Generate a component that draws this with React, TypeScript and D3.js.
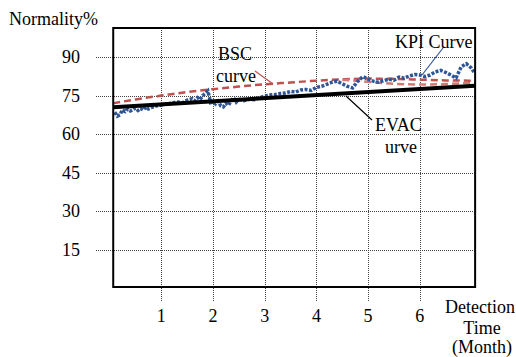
import React from 'react';
import * as d3 from 'd3';

// Month ticks and normality ticks
const xTicks = [1, 2, 3, 4, 5, 6];
const yTicks = [15, 30, 45, 60, 75, 90];

// KPI curve (blue, noisy)
const kpiX = [0.1, 0.15, 0.2, 0.25, 0.3, 0.35, 0.4, 0.45, 0.5, 0.55, 0.6, 0.65, 0.7, 0.75, 0.8, 0.9, 1.0, 1.1, 1.2, 1.3, 1.4, 1.5, 1.6, 1.65, 1.7, 1.75, 1.8, 1.85, 1.9, 1.93, 1.96, 2.0, 2.05, 2.1, 2.15, 2.2, 2.25, 2.3, 2.35, 2.4, 2.45, 2.5, 2.6, 2.7, 2.8, 2.9, 3.0, 3.1, 3.2, 3.3, 3.4, 3.5, 3.6, 3.7, 3.8, 3.9, 4.0, 4.1, 4.2, 4.3, 4.4, 4.5, 4.6, 4.7, 4.8, 4.9, 5.0, 5.1, 5.2, 5.3, 5.4, 5.5, 5.6, 5.7, 5.8, 5.9, 6.0, 6.1, 6.2, 6.3, 6.4, 6.5, 6.6, 6.7, 6.75, 6.8, 6.9, 6.95, 7.0, 7.05];
const kpiY = [68.5, 67.0, 67.5, 69.5, 68.8, 69.8, 69.0, 69.5, 70.2, 69.2, 70.0, 69.4, 70.6, 69.8, 70.3, 71.0, 71.2, 71.8, 72.0, 72.6, 72.2, 73.2, 73.8, 73.0, 74.2, 73.4, 75.0, 75.8, 76.8, 74.5, 71.5, 73.0, 71.8, 72.8, 71.0, 70.6, 72.0, 71.2, 73.0, 74.2, 72.5, 73.6, 73.0, 73.6, 73.4, 74.2, 74.8, 75.2, 75.4, 75.8, 76.0, 76.6, 76.4, 77.2, 77.4, 77.0, 78.2, 78.6, 79.4, 80.2, 80.6, 79.6, 78.6, 78.0, 80.6, 82.4, 81.4, 80.6, 80.2, 80.8, 81.4, 81.0, 82.2, 81.8, 82.6, 83.2, 83.0, 82.4, 83.0, 84.2, 84.8, 84.0, 83.0, 81.8, 84.0, 86.2, 87.4, 86.6, 85.6, 84.0];

// BSC curve (red dashed) and its lower trace near the end
const bscX = [0.07, 0.5, 1, 1.5, 2, 2.5, 3, 3.5, 4, 4.5, 5, 5.5, 6, 6.5, 7.07];
const bscY = [72, 73.5, 75, 76.4, 77.5, 78.5, 79.4, 80.1, 80.8, 81.3, 81.6, 81.5, 81.2, 80.9, 80.8];
const bsc2X = [4.5, 5.0, 5.5, 6.0, 6.5, 7.07];
const bsc2Y = [81.2, 80.4, 79.6, 79.3, 79.5, 80.0];

// EVAC curve (black straight)
const evacX = [0.07, 7.07];
const evacY = [70.5, 78.8];

const W = 516;
const H = 357;
const family = 'Liberation Serif, Times New Roman, serif';

const App = () => {
  const ref = React.useRef<SVGSVGElement>(null);

  React.useEffect(() => {
    const svg = d3.select(ref.current);
    svg.selectAll('*').remove();

    const x = d3.scaleLinear().domain([0, 7]).range([109.6, 471.5]);
    const y = d3.scaleLinear().domain([0, 90]).range([288.6, 57]);
    const left = x(0.07);
    const right = x(7.07);
    const top = 28;
    const bottom = 287;

    const grid = svg.append('g')
      .attr('stroke', '#444')
      .attr('stroke-width', 1)
      .attr('stroke-dasharray', '1,1');

    grid.selectAll('line.h')
      .data(yTicks)
      .join('line')
      .attr('x1', 96)
      .attr('x2', right)
      .attr('y1', (d) => Math.round(y(d)) + 0.5)
      .attr('y2', (d) => Math.round(y(d)) + 0.5);

    grid.selectAll('line.v')
      .data(xTicks)
      .join('line')
      .attr('x1', (d) => Math.round(x(d)) + 0.5)
      .attr('x2', (d) => Math.round(x(d)) + 0.5)
      .attr('y1', top)
      .attr('y2', 302);

    // Tick labels
    svg.append('g')
      .attr('font-family', family)
      .attr('font-size', 18)
      .selectAll('text')
      .data(yTicks)
      .join('text')
      .attr('x', 80)
      .attr('y', (d) => y(d) + 6)
      .attr('text-anchor', 'end')
      .text((d) => d);

    svg.append('g')
      .attr('font-family', family)
      .attr('font-size', 18)
      .selectAll('text')
      .data(xTicks)
      .join('text')
      .attr('x', (d) => x(d))
      .attr('y', 322)
      .attr('text-anchor', 'middle')
      .text((d) => d);

    const line = (xs: number[], ys: number[], curve: d3.CurveFactory) =>
      d3.line<number>()
        .x((d, i) => x(xs[i]))
        .y((d, i) => y(ys[i]))
        .curve(curve)(ys);

    // BSC
    svg.append('path')
      .attr('d', line(bscX, bscY, d3.curveMonotoneX))
      .attr('fill', 'none')
      .attr('stroke', '#c0504d')
      .attr('stroke-width', 2.5)
      .attr('stroke-dasharray', '7,4');
    svg.append('path')
      .attr('d', line(bsc2X, bsc2Y, d3.curveMonotoneX))
      .attr('fill', 'none')
      .attr('stroke', '#d07a76')
      .attr('stroke-width', 2.5)
      .attr('stroke-dasharray', '7,4');

    // KPI
    svg.append('path')
      .attr('d', line(kpiX, kpiY, d3.curveLinear))
      .attr('fill', 'none')
      .attr('stroke', '#2f5597')
      .attr('stroke-width', 3.5)
      .attr('stroke-dasharray', '3,1.5');

    // EVAC
    svg.append('path')
      .attr('d', line(evacX, evacY, d3.curveLinear))
      .attr('fill', 'none')
      .attr('stroke', '#000')
      .attr('stroke-width', 4);

    // Plot frame
    svg.append('rect')
      .attr('x', left)
      .attr('y', top)
      .attr('width', right - left)
      .attr('height', bottom - top)
      .attr('fill', 'none')
      .attr('stroke', '#000')
      .attr('stroke-width', 2);

    // Leader lines
    svg.append('line')
      .attr('x1', 255).attr('y1', 71).attr('x2', 273).attr('y2', 84)
      .attr('stroke', '#c0504d').attr('stroke-width', 1.2);
    svg.append('line')
      .attr('x1', 443).attr('y1', 48).attr('x2', 422).attr('y2', 75)
      .attr('stroke', '#2f5597').attr('stroke-width', 1.2);
    svg.append('line')
      .attr('x1', 346).attr('y1', 96).attr('x2', 372).attr('y2', 120)
      .attr('stroke', '#000').attr('stroke-width', 1.2);

    const label = (tx: number, ty: number, s: string, anchor = 'start') =>
      svg.append('text')
        .attr('x', tx)
        .attr('y', ty)
        .attr('text-anchor', anchor)
        .attr('font-family', family)
        .attr('font-size', 18)
        .text(s);

    label(9, 25, 'Normality%');
    label(218, 60, 'BSC');
    label(216, 82, 'curve');
    label(395, 48, 'KPI Curve');
    label(375, 131, 'EVAC');
    label(385, 153, 'urve');
    label(480, 313, 'Detection', 'middle');
    label(482, 334, 'Time', 'middle');
    label(482, 353, '(Month)', 'middle');
  }, []);

  return (
    <svg
      ref={ref}
      width={W}
      height={H}
      style={{ position: 'absolute', left: 0, top: 0, background: '#fff' }}
    />
  );
};

export default App;
